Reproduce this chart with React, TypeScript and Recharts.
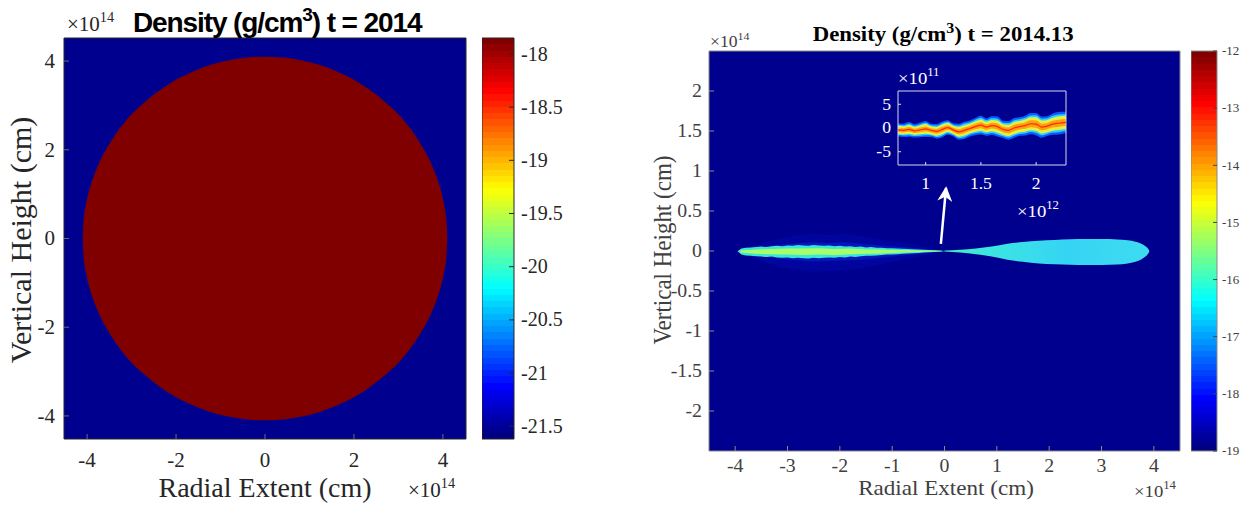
import React from "react";
import { ComposedChart, Area, Line, XAxis, YAxis, ReferenceArea } from "recharts";

const W = 1259;
const H = 511;
const SERIF = "'Liberation Serif', 'Times New Roman', serif";
const SANS = "'Liberation Sans', Arial, sans-serif";
const BG = "#00008f";

// ---------- left panel, t = 2014 (initial sphere) ----------
const leftRange = [-4.52, 4.52];
const leftTicks = [-4, -2, 0, 2, 4];
const sphereX = [-4.1, -4.08, -4.03, -3.95, -3.85, -3.7, -3.5, -3.25, -3.0, -2.7, -2.4, -2.0, -1.6, -1.2, -0.8, -0.4, 0,
  0.4, 0.8, 1.2, 1.6, 2.0, 2.4, 2.7, 3.0, 3.25, 3.5, 3.7, 3.85, 3.95, 4.03, 4.08, 4.1];
const sphereHalf = [0, 0.41, 0.75, 1.1, 1.41, 1.77, 2.13, 2.5, 2.8, 3.08, 3.32, 3.58, 3.77, 3.92, 4.02, 4.08, 4.1,
  4.08, 4.02, 3.92, 3.77, 3.58, 3.32, 3.08, 2.8, 2.5, 2.13, 1.77, 1.41, 1.1, 0.75, 0.41, 0];
const cbLeftRange = [-21.62, -17.85];
const cbLeftTicks = [-21.5, -21, -20.5, -20, -19.5, -19, -18.5, -18];

// ---------- right panel, t = 2014.13 ----------
const rightXRange = [-4.5, 4.5];
const rightYRange = [-2.5, 2.5];
const rightXTicks = [-4, -3, -2, -1, 0, 1, 2, 3, 4];
const rightYTicks = [-2, -1.5, -1, -0.5, 0, 0.5, 1, 1.5, 2];
const cbRightRange = [-19, -12];
const cbRightTicks = [-19, -18, -17, -16, -15, -14, -13, -12];

// right lobe (smooth)
const lobeX = [0, 0.3, 0.6, 0.9, 1.2, 1.5, 1.8, 2.1, 2.4, 2.7, 3.0, 3.3, 3.5, 3.65, 3.76, 3.84, 3.89, 3.91];
const lobeLow = [-0.005, -0.02, -0.04, -0.068, -0.108, -0.135, -0.155, -0.165, -0.172, -0.176, -0.176, -0.17, -0.155, -0.135, -0.105, -0.07, -0.035, -0.012];
const lobeHigh = [0.005, 0.015, 0.032, 0.055, 0.09, 0.112, 0.128, 0.138, 0.146, 0.15, 0.15, 0.145, 0.133, 0.115, 0.09, 0.058, 0.028, 0.005];

// left fragmented disc: cyan body
const coreX = [-3.95, -3.88, -3.8, -3.7, -3.6, -3.5, -3.4, -3.3, -3.2, -3.1, -3.0, -2.9, -2.8, -2.7, -2.6, -2.5, -2.4, -2.3, -2.2, -2.1,
  -2.0, -1.9, -1.8, -1.7, -1.6, -1.5, -1.4, -1.3, -1.2, -1.1, -1.0, -0.9, -0.8, -0.7, -0.6, -0.5, -0.4, -0.3, -0.2, -0.1, 0];
const coreHigh = [0.0, 0.03, 0.04, 0.045, 0.05, 0.055, 0.05, 0.06, 0.065, 0.06, 0.07, 0.065, 0.075, 0.07, 0.065, 0.075, 0.07, 0.065, 0.07, 0.06,
  0.065, 0.055, 0.06, 0.05, 0.055, 0.045, 0.05, 0.04, 0.04, 0.035, 0.035, 0.03, 0.028, 0.025, 0.022, 0.02, 0.016, 0.013, 0.01, 0.006, 0.0];
const coreLow = [-0.005, -0.045, -0.055, -0.06, -0.065, -0.07, -0.075, -0.07, -0.08, -0.085, -0.08, -0.09, -0.085, -0.09, -0.095, -0.085, -0.09, -0.085, -0.08, -0.085,
  -0.075, -0.08, -0.07, -0.075, -0.065, -0.06, -0.06, -0.055, -0.05, -0.045, -0.045, -0.04, -0.035, -0.032, -0.028, -0.025, -0.02, -0.016, -0.012, -0.008, -0.004];
// green-yellow inner streak
const greenX = [-3.9, -3.6, -3.3, -3.0, -2.7, -2.4, -2.1, -1.8, -1.5, -1.2, -0.9, -0.6, -0.3, -0.05];
const greenHigh = [0.005, 0.02, 0.025, 0.03, 0.03, 0.035, 0.025, 0.03, 0.02, 0.018, 0.012, 0.01, 0.006, 0.002];
const greenLow = [-0.02, -0.035, -0.04, -0.045, -0.05, -0.045, -0.05, -0.04, -0.035, -0.03, -0.022, -0.016, -0.01, -0.004];
// faint blue haze around the fragmented side
const hazeX = [-3.7, -3.4, -3.1, -2.8, -2.5, -2.2, -1.9, -1.6, -1.3, -1.0, -0.7, -0.4, -0.15];
const hazeHigh = [0.06, 0.12, 0.16, 0.2, 0.22, 0.2, 0.22, 0.18, 0.15, 0.12, 0.09, 0.05, 0.02];
const hazeLow = [-0.08, -0.15, -0.2, -0.24, -0.26, -0.25, -0.24, -0.22, -0.18, -0.14, -0.1, -0.06, -0.02];

// arrow (data coords, tail -> tip)
const arrowX = [-0.07, 0.03];
const arrowY = [0.09, 0.79];

// inset (x in 1e12, y in 1e11)
const insetXRange = [0.75, 2.27];
const insetYRange = [-7.8, 7.8];
const insetXTicks = [1, 1.5, 2];
const insetYTicks = [-5, 0, 5];
const insetX = [0.75, 0.8, 0.85, 0.9, 0.95, 1.0, 1.05, 1.1, 1.15, 1.2, 1.25, 1.3, 1.35, 1.4, 1.45, 1.5, 1.55, 1.6, 1.65, 1.7,
  1.75, 1.8, 1.85, 1.9, 1.95, 2.0, 2.05, 2.1, 2.15, 2.2, 2.27];
const insetMid = [-0.4, -0.5, -0.3, -0.6, -0.4, -0.2, -0.5, -0.7, -0.3, 0.1, -0.4, -0.8, -0.5, -0.1, 0.3, 0.6, 0.2, 0.5, 0.3, -0.3,
  -0.5, 0.0, 0.3, 0.5, 0.9, 0.8, 0.2, 0.4, 0.8, 1.0, 1.2];
const insetHalf = [1.0, 1.0, 1.1, 1.0, 1.1, 1.2, 1.0, 1.1, 1.2, 1.1, 1.0, 1.2, 1.3, 1.2, 1.3, 1.4, 1.3, 1.4, 1.5, 1.3,
  1.4, 1.5, 1.4, 1.5, 1.6, 1.7, 1.6, 1.5, 1.6, 1.7, 1.6];

// MATLAB jet colormap (64 levels) for the colorbars
function jet(t: number) {
  const c = (v: number) => Math.round(255 * Math.min(1, Math.max(0, v)));
  const r = c(Math.min(4 * t - 1.5, -4 * t + 4.5));
  const g = c(Math.min(4 * t - 0.5, -4 * t + 3.5));
  const b = c(Math.min(4 * t + 0.5, -4 * t + 2.5));
  return `rgb(${r},${g},${b})`;
}
const jetColors = Array.from({ length: 64 }, (_, i) => jet(i / 63));

const band = (xs: number[], lo: number[], hi: number[]) => xs.map((x, i) => ({ x, v: [lo[i], hi[i]] }));
const fullBox = (xr: number[], yr: number[]) => [{ x: xr[0], v: yr }, { x: xr[1], v: yr }];

// ---- tick renderers (MATLAB-style inward ticks) ----
type TO = { font: number; color: string; len: number; gap: number; sx?: number; line?: string; noText?: boolean };
const lbl = (x: number, y: number, v: any, o: TO, anchor: string) => (
  <text transform={`translate(${x},${y}) scale(${o.sx ?? 1},1)`} textAnchor={anchor} fontFamily={SERIF} fontSize={o.font} fill={o.color}>
    {String(v)}
  </text>
);
const bottomTick = (o: TO) => (p: any) => (
  <g>
    <line x1={p.x} x2={p.x} y1={p.y} y2={p.y - o.len} stroke={o.line ?? o.color} strokeWidth={1} />
    {!o.noText && lbl(p.x, p.y + o.gap, p.payload.value, o, "middle")}
  </g>
);
const topTick = (o: TO) => (p: any) => (
  <line x1={p.x} x2={p.x} y1={p.y} y2={p.y + o.len} stroke={o.line ?? o.color} strokeWidth={1} />
);
const leftTick = (o: TO) => (p: any) => (
  <g>
    <line x1={p.x} x2={p.x + o.len} y1={p.y} y2={p.y} stroke={o.line ?? o.color} strokeWidth={1} />
    {!o.noText && lbl(p.x - o.gap, p.y + o.font * 0.33, p.payload.value, o, "end")}
  </g>
);
const rightTick = (o: TO) => (p: any) => (
  <g>
    <line x1={p.x - o.len} x2={p.x} y1={p.y} y2={p.y} stroke={o.line ?? o.color} strokeWidth={1} />
    {!o.noText && lbl(p.x + o.gap, p.y + o.font * 0.33, p.payload.value, o, "start")}
  </g>
);

const axisCommon = { type: "number" as const, allowDataOverflow: true, interval: 0 as const, tickSize: 0, tickMargin: 0, axisLine: false, tickLine: false };
const areaCommon = { stroke: "none", fillOpacity: 1, isAnimationActive: false, dot: false, activeDot: false, legendType: "none" as const };

function LeftPanel() {
  const o: TO = { font: 21, color: "#262626", len: 5, gap: 28, line: "#6a6a6a" };
  const oy: TO = { ...o, gap: 9 };
  return (
    <div style={{ position: "absolute", left: 0, top: 0 }}>
      <ComposedChart width={480} height={H} margin={{ top: 38, right: 14, bottom: 0, left: 0 }}>
        <XAxis xAxisId={0} dataKey="x" domain={leftRange} ticks={leftTicks} height={72} tick={bottomTick(o)} {...axisCommon} />
        <XAxis xAxisId="t" dataKey="x" orientation="top" domain={leftRange} ticks={leftTicks} height={0} tick={topTick(o)} {...axisCommon} />
        <YAxis yAxisId={0} domain={leftRange} ticks={leftTicks} width={64} tick={leftTick(oy)} {...axisCommon} />
        <YAxis yAxisId="r" orientation="right" domain={leftRange} ticks={leftTicks} width={0} tick={rightTick({ ...oy, noText: true })} {...axisCommon} />
        <Area data={fullBox(leftRange, leftRange)} dataKey="v" type="linear" fill={BG} {...areaCommon} />
        <Area data={sphereX.map((x, i) => ({ x, v: [-sphereHalf[i], sphereHalf[i]] }))} dataKey="v" type="monotone" fill="#800000" {...areaCommon} />
        <ReferenceArea x1={leftRange[0]} x2={leftRange[1]} y1={leftRange[0]} y2={leftRange[1]} fill="none" stroke="#262626" strokeWidth={1} />
      </ComposedChart>
    </div>
  );
}

function Colorbar(props: { id: string; left: number; top: number; barW: number; barH: number; labelW: number; range: number[]; ticks: number[]; o: TO; frame: string }) {
  const { id, left, top, barW, barH, labelW, range, ticks, o, frame } = props;
  return (
    <div style={{ position: "absolute", left, top: 0 }}>
      <ComposedChart width={barW + labelW} height={H} margin={{ top, right: 0, bottom: H - top - barH, left: 0 }} data={[{ x: 0 }, { x: 1 }]}>
        <defs>
          <linearGradient id={id} x1="0" y1="1" x2="0" y2="0">
            {jetColors.flatMap((c, i) => [
              <stop key={`a${i}`} offset={i / 64} stopColor={c} />,
              <stop key={`b${i}`} offset={(i + 1) / 64} stopColor={c} />,
            ])}
          </linearGradient>
        </defs>
        <XAxis dataKey="x" type="number" domain={[0, 1]} hide />
        <YAxis orientation="right" domain={range} ticks={ticks} width={labelW} tick={rightTick(o)} {...axisCommon} />
        <ReferenceArea x1={0} x2={1} y1={range[0]} y2={range[1]} fill={`url(#${id})`} fillOpacity={1} stroke={frame} strokeWidth={1} />
      </ComposedChart>
    </div>
  );
}

function RightPanel() {
  const o: TO = { font: 18, color: "#404040", len: 5, gap: 21, sx: 1.1, line: "#8a8a8a" };
  const oy: TO = { ...o, gap: 7 };
  return (
    <div style={{ position: "absolute", left: 640, top: 0 }}>
      <ComposedChart width={550} height={H} margin={{ top: 51, right: 10, bottom: 0, left: 0 }}>
        <defs>
          <linearGradient id="lobeFill" x1="0" y1="0" x2="1" y2="0">
            <stop offset="0" stopColor="#40f0b8" />
            <stop offset="0.2" stopColor="#3ce6e0" />
            <stop offset="0.6" stopColor="#36d4f4" />
            <stop offset="1" stopColor="#3edcf0" />
          </linearGradient>
          <marker id="arrowHead" viewBox="0 0 10 10" refX="9" refY="5" markerWidth="6" markerHeight="6" orient="auto" markerUnits="strokeWidth">
            <path d="M0,0 L10,5 L0,10 L3,5 z" fill="#ffffff" />
          </marker>
        </defs>
        <XAxis xAxisId={0} dataKey="x" domain={rightXRange} ticks={rightXTicks} height={60} tick={bottomTick(o)} {...axisCommon} />
        <XAxis xAxisId="t" dataKey="x" orientation="top" domain={rightXRange} ticks={rightXTicks} height={0} tick={topTick(o)} {...axisCommon} />
        <YAxis yAxisId={0} domain={rightYRange} ticks={rightYTicks} width={69} tick={leftTick(oy)} {...axisCommon} />
        <YAxis yAxisId="r" orientation="right" domain={rightYRange} ticks={rightYTicks} width={0} tick={rightTick({ ...oy, noText: true })} {...axisCommon} />
        <Area data={fullBox(rightXRange, rightYRange)} dataKey="v" type="linear" fill={BG} {...areaCommon} />
        <Area data={band(hazeX, hazeLow, hazeHigh)} dataKey="v" type="linear" fill="#0a1ee0" {...areaCommon} fillOpacity={0.18} />
        <Area data={band(hazeX, hazeLow.map((v) => v * 0.5), hazeHigh.map((v) => v * 0.5))} dataKey="v" type="linear" fill="#0a3cff" {...areaCommon} fillOpacity={0.3} />
        <Area data={band(coreX, coreLow, coreHigh)} dataKey="v" type="linear" fill="#3ae6d6" {...areaCommon} />
        <Area data={band(greenX, greenLow, greenHigh)} dataKey="v" type="linear" fill="#a8ff6a" {...areaCommon} />
        <Area data={band(lobeX, lobeLow, lobeHigh)} dataKey="v" type="monotone" fill="url(#lobeFill)" {...areaCommon} />
        <Line data={arrowX.map((x, i) => ({ x, y: arrowY[i] }))} dataKey="y" type="linear" stroke="#ffffff" strokeWidth={2.5}
          dot={false} activeDot={false} isAnimationActive={false} markerEnd="url(#arrowHead)" legendType="none" />
        <ReferenceArea x1={rightXRange[0]} x2={rightXRange[1]} y1={rightYRange[0]} y2={rightYRange[1]} fill="none" stroke="#8a8a8a" strokeWidth={1} />
      </ComposedChart>
    </div>
  );
}

function Inset() {
  const o: TO = { font: 16, color: "#ffffff", len: 3, gap: 24, sx: 1.1, line: "#d8d8e8" };
  const oy: TO = { ...o, gap: 7 };
  const rows = (k: number) => insetX.map((x, i) => ({ x, v: [insetMid[i] - insetHalf[i] * k, insetMid[i] + insetHalf[i] * k] }));
  return (
    <div style={{ position: "absolute", left: 860, top: 70 }}>
      <ComposedChart width={220} height={150} margin={{ top: 21, right: 14, bottom: 0, left: 0 }}>
        <XAxis xAxisId={0} dataKey="x" domain={insetXRange} ticks={insetXTicks} height={55} tick={bottomTick(o)} {...axisCommon} />
        <XAxis xAxisId="t" dataKey="x" orientation="top" domain={insetXRange} ticks={insetXTicks} height={0} tick={topTick(o)} {...axisCommon} />
        <YAxis yAxisId={0} domain={insetYRange} ticks={insetYTicks} width={38} tick={leftTick(oy)} {...axisCommon} />
        <YAxis yAxisId="r" orientation="right" domain={insetYRange} ticks={insetYTicks} width={0} tick={rightTick({ ...oy, noText: true })} {...axisCommon} />
        <Area data={fullBox(insetXRange, insetYRange)} dataKey="v" type="linear" fill={BG} {...areaCommon} />
        <Area data={rows(1.4)} dataKey="v" type="monotone" fill="#0a5cff" {...areaCommon} />
        <Area data={rows(1.1)} dataKey="v" type="monotone" fill="#28d0ff" {...areaCommon} />
        <Area data={rows(0.85)} dataKey="v" type="monotone" fill="#e6f040" {...areaCommon} />
        <Area data={rows(0.45)} dataKey="v" type="monotone" fill="#ffa010" {...areaCommon} />
        <Line data={insetX.map((x, i) => ({ x, y: insetMid[i] }))} dataKey="y" type="monotone" stroke="#ff2a00" strokeWidth={1.2}
          dot={false} activeDot={false} isAnimationActive={false} legendType="none" />
        <ReferenceArea x1={insetXRange[0]} x2={insetXRange[1]} y1={insetYRange[0]} y2={insetYRange[1]} fill="none" stroke="#d8d8e8" strokeWidth={1} />
      </ComposedChart>
    </div>
  );
}

function T(p: { x: number; y: number; size: number; children: React.ReactNode; anchor?: string; sx?: number; rot?: number; weight?: string; family?: string; fill?: string; ls?: number }) {
  return (
    <text transform={`translate(${p.x},${p.y}) scale(${p.sx ?? 1},1) rotate(${p.rot ?? 0})`} fontSize={p.size} textAnchor={p.anchor ?? "start"}
      fontFamily={p.family ?? SERIF} fontWeight={p.weight ?? "normal"} fill={p.fill ?? "#262626"} letterSpacing={p.ls ?? 0}>
      {p.children}
    </text>
  );
}
const pow = (e: string, size: number) => [
  <tspan key="b">×10</tspan>,
  <tspan key="e" dy={-size * 0.45} fontSize={size * 0.68}>{e}</tspan>,
];

function Texts() {
  return (
    <svg width={W} height={H} style={{ position: "absolute", left: 0, top: 0, pointerEvents: "none" }}>
      {/* left */}
      <T x={67} y={31} size={21}>{pow("14", 21)}</T>
      <T x={133} y={32} size={28} weight="bold" family={SANS} fill="#000" ls={-1.1}>
        Density (g/cm<tspan dy={-11} fontSize={19}>3</tspan><tspan dy={11}>) t = 2014</tspan>
      </T>
      <T x={31} y={240} size={30} rot={-90} anchor="middle">Vertical Height (cm)</T>
      <T x={265} y={497} size={28} anchor="middle">Radial Extent (cm)</T>
      <T x={408} y={497} size={21}>{pow("14", 21)}</T>
      {/* right */}
      <T x={710} y={47} size={16} sx={1.1} fill="#404040">{pow("14", 16)}</T>
      <T x={812.7} y={41.3} size={20} sx={1.14} weight="bold" fill="#000">
        Density (g/cm<tspan dy={-8} fontSize={14}>3</tspan><tspan dy={8}>) t = 2014.13</tspan>
      </T>
      <T x={671} y={250} size={23} sx={1.14} rot={-90} anchor="middle" fill="#404040">Vertical Height (cm)</T>
      <T x={946} y={495} size={21} sx={1.1} anchor="middle" fill="#404040">Radial Extent (cm)</T>
      <T x={1134} y={497} size={17} sx={1.1} fill="#404040">{pow("14", 17)}</T>
      <T x={898} y={84} size={17} sx={1.1} fill="#ffffff">{pow("11", 17)}</T>
      <T x={1017} y={217} size={17} sx={1.1} fill="#ffffff">{pow("12", 17)}</T>
    </svg>
  );
}

export default function App() {
  return (
    <div style={{ position: "relative", width: W, height: H, background: "#fff", overflow: "hidden" }}>
      <style>{"body{margin:0}"}</style>
      <LeftPanel />
      <Colorbar id="jetL" left={482} top={38} barW={32} barH={401} labelW={70} range={cbLeftRange} ticks={cbLeftTicks}
        o={{ font: 20, color: "#262626", len: 5, gap: 7, line: "#262626" }} frame="#262626" />
      <RightPanel />
      <Inset />
      <Colorbar id="jetR" left={1191} top={51} barW={26} barH={400} labelW={42} range={cbRightRange} ticks={cbRightTicks}
        o={{ font: 13, color: "#404040", len: 4, gap: 5, line: "#404040" }} frame="#8a8a8a" />
      <Texts />
    </div>
  );
}
